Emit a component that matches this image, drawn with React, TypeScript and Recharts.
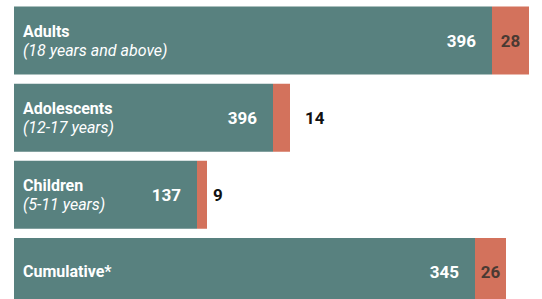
import { Bar, BarChart, LabelList, XAxis, YAxis } from "recharts";

// groups, top to bottom
const groups = ["Adults", "Adolescents", "Children", "Cumulative*"];
const subtitles = ["(18 years and above)", "(12-17 years)", "(5-11 years)", ""];
// printed numbers
const tealLabels = [396, 396, 137, 345];
const redLabels = [28, 14, 9, 26];
// bar lengths as drawn (chart units)
const tealLength = [478, 259, 183, 461];
const redLength = [37, 17, 10, 31];

const data = groups.map((name, i) => ({
    name,
    sub: subtitles[i],
    teal: tealLength[i],
    red: redLength[i],
    tealLabel: tealLabels[i],
    redLabel: redLabels[i],
}));

const TEAL = "#58817f";
const RED = "#d3725c";
const FONT = "Roboto, 'Noto Sans', sans-serif";

const GroupName = (props: any) => {
    const { x, y, height, index } = props;
    const sub = subtitles[index];
    const cy = y + height / 2;
    if (!sub) {
        return (
            <text x={x + 9} y={cy} dy={5} fill="#fff" fontSize={16} fontWeight={700} fontFamily={FONT}>
                {groups[index]}
            </text>
        );
    }
    return (
        <g fontFamily={FONT} fontSize={16} fill="#fff">
            <text x={x + 9} y={cy - 9} dy={5} fontWeight={700}>{groups[index]}</text>
            <text x={x + 9} y={cy + 10} dy={5} fontStyle="italic">{sub}</text>
        </g>
    );
};

const TealValue = (props: any) => {
    const { x, y, width, height, index } = props;
    return (
        <text x={x + width - 16} y={y + height / 2} dy={6} textAnchor="end" fill="#fff"
            fontSize={17} fontWeight={700} fontFamily={FONT}>
            {tealLabels[index]}
        </text>
    );
};

const RedValue = (props: any) => {
    const { x, y, width, height, index } = props;
    const inside = width > 25;
    return (
        <text x={inside ? x + width / 2 : x + width + (width > 12 ? 15 : 6)} y={y + height / 2} dy={6}
            textAnchor={inside ? "middle" : "start"} fill={inside ? "#4a3a33" : "#111"}
            fontSize={17} fontWeight={700} fontFamily={FONT}>
            {redLabels[index]}
        </text>
    );
};

export default function App() {
    return (
        <div style={{ position: "absolute", left: 0, top: 0, width: 542, height: 299, overflow: "hidden", background: "#fff" }}>
            <BarChart width={542} height={310} data={data} layout="vertical"
                margin={{ top: 1.5, right: 0, bottom: 0, left: 14 }}>
                <XAxis type="number" domain={[0, 528]} hide />
                <YAxis type="category" dataKey="name" hide />
                <Bar dataKey="teal" stackId="a" fill={TEAL} barSize={68} isAnimationActive={false}>
                    <LabelList dataKey="name" content={<GroupName />} />
                    <LabelList dataKey="tealLabel" content={<TealValue />} />
                </Bar>
                <Bar dataKey="red" stackId="a" fill={RED} barSize={68} isAnimationActive={false}>
                    <LabelList dataKey="redLabel" content={<RedValue />} />
                </Bar>
            </BarChart>
        </div>
    );
}
